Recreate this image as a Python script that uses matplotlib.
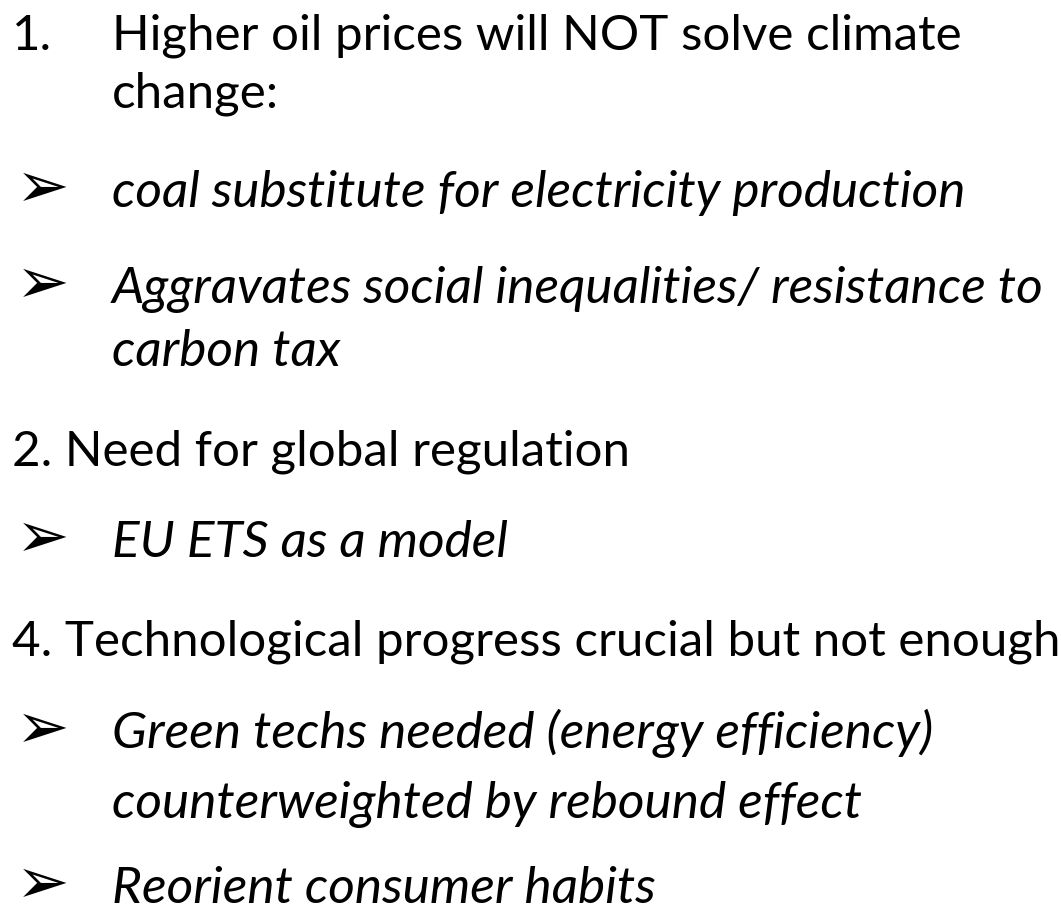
import matplotlib
matplotlib.use("Agg")
import matplotlib.pyplot as plt

W, H = 1061, 913
fig = plt.figure(figsize=(W/100, H/100), dpi=100)
ax = fig.add_axes([0, 0, 1, 1])
ax.set_xlim(0, W)
ax.set_ylim(H, 0)
ax.axis("off")

markers = ["1.", "", "➢", "➢", "", "", "➢", "", "➢", "", "➢"]
texts = [
    "Higher oil prices will NOT solve climate",
    "change:",
    "coal substitute for electricity production",
    "Aggravates social inequalities/ resistance to",
    "carbon tax",
    "2. Need for global regulation",
    "EU ETS as a model",
    "4. Technological progress crucial but not enough",
    "Green techs needed (energy efficiency)",
    "counterweighted by rebound effect",
    "Reorient consumer habits",
]
baselines = [50, 107, 207, 303, 366, 465, 557, 655, 748, 818, 903]
italic = [False, False, True, True, True, False, True, False, True, True, True]
indented = [True, True, True, True, True, False, True, False, True, True, True]

FS_REG = 35.5
FS_IT = 37
FAM = ["Lato", "DejaVu Sans"]
for m, t, y, it, ind in zip(markers, texts, baselines, italic, indented):
    if m == "➢":
        ax.text(16, y - 18, m, fontsize=46, family=["DejaVu Sans"],
                va="center", ha="left", color="black")
    elif m:
        ax.text(12, y, m, fontsize=FS_REG, family=FAM,
                va="baseline", ha="left", color="black")
    ax.text(112 if ind else 12, y, t, fontsize=FS_IT if it else FS_REG, family=FAM,
            style="italic" if it else "normal", va="baseline", ha="left", color="black")

fig.savefig("out.png", dpi=100)
